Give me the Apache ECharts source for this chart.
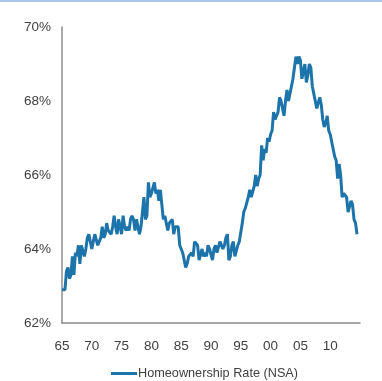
<!DOCTYPE html>
<html>
<head>
<meta charset="utf-8">
<script src="https://cdn.jsdelivr.net/npm/echarts@6/dist/echarts.min.js"></script>
<style>
  html, body { margin: 0; padding: 0; background: #ffffff; }
  #chart { width: 382px; height: 381px; }
</style>
</head>
<body>
<div id="chart"></div>
<script>
// Quarterly homeownership rate, not seasonally adjusted (%), 1965 Q1 onward
const startYear = 1965;
const rate1965_1974 = [
  62.9, 62.9, 62.9, 63.4,  63.5, 63.2, 63.3, 63.8,  63.3, 63.9, 63.8, 64.1,
  63.6, 64.1, 64.1, 63.8,  64.0, 64.3, 64.4, 64.4,  64.0, 64.2, 64.4, 64.4,
  64.1, 64.1, 64.3, 64.6,  64.3, 64.4, 64.7, 64.5,  64.5, 64.4, 64.6, 64.9,
  64.6, 64.4, 64.8, 64.8
];
const rate1975_1984 = [
  64.4, 64.9, 64.6, 64.5,  64.6, 64.5, 64.8, 64.9,  64.8, 64.5, 64.8, 64.8,
  64.4, 64.6, 65.0, 65.4,  64.8, 64.9, 65.8, 65.4,  65.5, 65.5, 65.8, 65.5,
  65.6, 65.3, 65.6, 65.2,  64.8, 64.9, 64.9, 64.5,  64.7, 64.7, 64.8, 64.4,
  64.6, 64.6, 64.6, 64.1
];
const rate1985_1994 = [
  64.1, 63.9, 63.9, 63.5,  63.6, 63.8, 63.8, 63.9,  63.8, 64.2, 64.2, 64.1,
  63.7, 63.7, 64.0, 63.8,  63.9, 63.8, 64.1, 64.0,  64.0, 63.7, 64.0, 64.1,
  63.9, 63.9, 64.2, 64.2,  64.0, 64.1, 64.3, 64.4,  63.7, 63.8, 64.1, 64.2,
  63.8, 63.8, 64.1, 64.2
];
const rate1995_2004 = [
  64.2, 64.7, 65.0, 65.1,  65.1, 65.4, 65.6, 65.4,  65.4, 65.7, 66.0, 65.7,
  65.9, 66.0, 66.8, 66.4,  66.7, 66.6, 67.0, 66.9,  67.1, 67.2, 67.7, 67.5,
  67.5, 67.7, 68.1, 68.0,  67.8, 67.6, 68.0, 68.3,  68.0, 68.0, 68.4, 68.6,
  68.6, 69.2, 69.0, 69.2
];
const rate2005_2014 = [
  69.1, 68.6, 68.8, 69.0,  68.5, 68.7, 69.0, 68.9,  68.4, 68.2, 68.2, 67.8,
  67.8, 68.1, 67.9, 67.5,  67.3, 67.4, 67.6, 67.2,  67.1, 66.9, 66.9, 66.5,
  66.4, 65.9, 66.3, 66.0,  65.4, 65.5, 65.5, 65.4,  65.0, 65.0, 65.3, 65.2,
  64.8, 64.7, 64.4
];
const rates = [].concat(rate1965_1974, rate1975_1984, rate1985_1994, rate1995_2004, rate2005_2014);

// Axis ticks
const yTicks = [62, 64, 66, 68, 70];
const xTickYears = [1965, 1970, 1975, 1980, 1985, 1990, 1995, 2000, 2005, 2010];
const seriesName = 'Homeownership Rate (NSA)';

// Pair each quarter with its decimal year position
const points = rates.map((v, i) => [startYear + i / 4, v]);

const textColor = '#404040';
const axisColor = '#8c8c8c';
const lineColor = '#1c74ab';

const chart = echarts.init(document.getElementById('chart'), null, { renderer: 'canvas' });
chart.setOption({
  animation: false,
  backgroundColor: '#ffffff',
  textStyle: { fontFamily: 'Liberation Sans, Arial, sans-serif' },
  graphic: [{
    type: 'rect',
    left: 0, top: 0,
    shape: { width: 382, height: 2 },
    style: { fill: '#aac6ef' }
  }],
  grid: { left: 62, right: 22, top: 27, bottom: 58 },
  xAxis: {
    type: 'value',
    min: 1965,
    max: 2015,
    interval: 5,
    axisLine: { show: true, lineStyle: { color: axisColor, width: 1.5 } },
    axisTick: { show: false },
    splitLine: { show: false },
    axisLabel: {
      color: textColor,
      fontSize: 13.5,
      margin: 16,
      showMaxLabel: false,
      formatter: v => xTickYears.includes(v) ? String(v % 100).padStart(2, '0') : ''
    }
  },
  yAxis: {
    type: 'value',
    min: yTicks[0],
    max: yTicks[yTicks.length - 1],
    interval: 2,
    axisLine: { show: true, lineStyle: { color: axisColor, width: 1.5 } },
    axisTick: { show: false },
    splitLine: { show: false },
    axisLabel: {
      color: textColor,
      fontSize: 13.5,
      margin: 11,
      formatter: v => v + '%'
    }
  },
  legend: {
    left: 106,
    top: 362,
    itemWidth: 26,
    itemHeight: 14,
    itemGap: 10,
    textStyle: { color: textColor, fontSize: 12.7, padding: [0, 0, 0, -4] },
    data: [{ name: seriesName, icon: 'path://M0,6 L26,6 L26,9 L0,9 Z' }]
  },
  series: [{
    name: seriesName,
    type: 'line',
    data: points,
    showSymbol: false,
    symbol: 'none',
    lineStyle: { color: lineColor, width: 3 },
    itemStyle: { color: lineColor }
  }]
});
</script>
</body>
</html>
